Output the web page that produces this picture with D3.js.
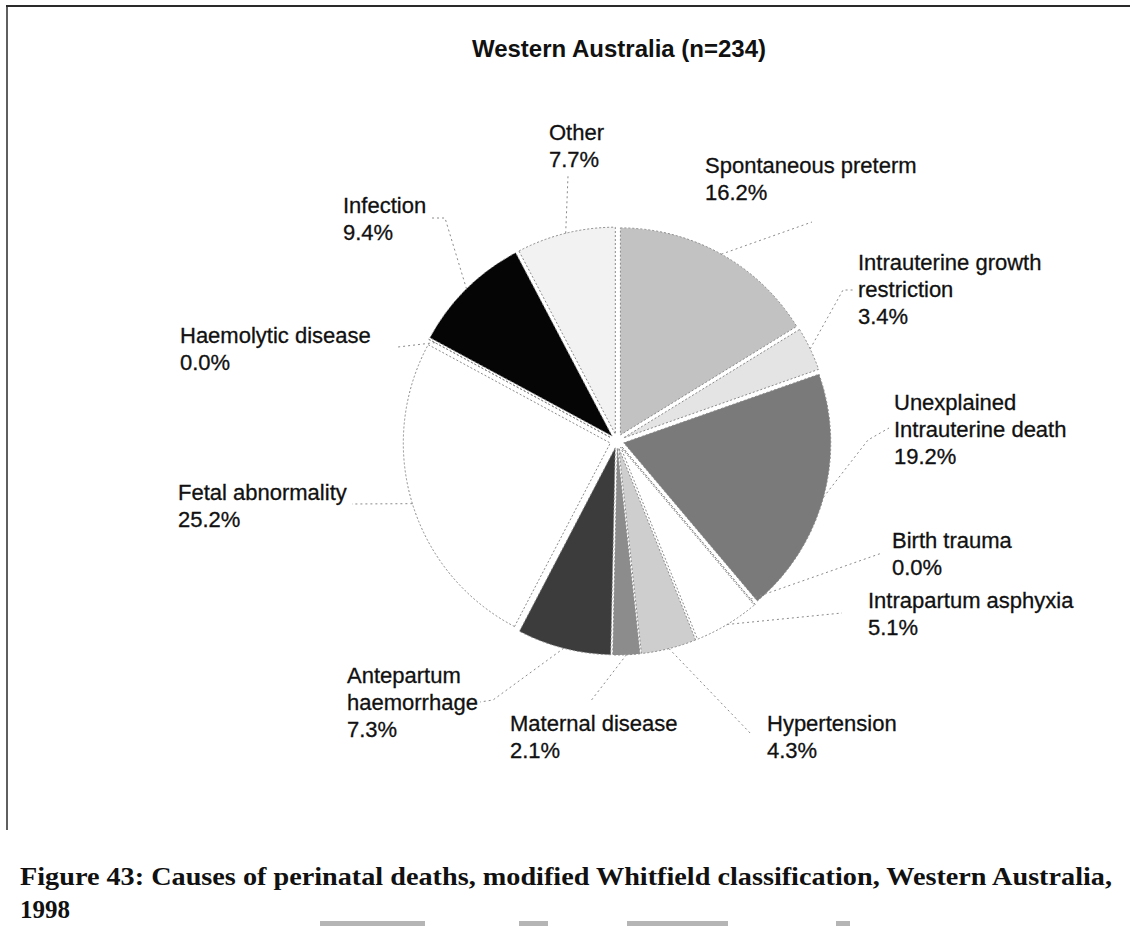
<!DOCTYPE html>
<html>
<head>
<meta charset="utf-8">
<script src="https://cdn.jsdelivr.net/npm/d3@7"></script>
<style>
  html, body { margin: 0; padding: 0; background: #fff; }
  svg { display: block; }
</style>
</head>
<body>
<svg id="chart" width="1130" height="926"></svg>
<script>
// Causes of perinatal deaths, Western Australia 1998 (percent of 234 deaths)
const categories = [
  "Spontaneous preterm", "Intrauterine growth restriction", "Unexplained Intrauterine death",
  "Birth trauma", "Intrapartum asphyxia", "Hypertension", "Maternal disease",
  "Antepartum haemorrhage", "Fetal abnormality", "Haemolytic disease", "Infection", "Other"
];
const percents = [16.2, 3.4, 19.2, 0.0, 5.1, 4.3, 2.1, 7.3, 25.2, 0.0, 9.4, 7.7];
const labelLines = [
  ["Spontaneous preterm"], ["Intrauterine growth", "restriction"], ["Unexplained", "Intrauterine death"],
  ["Birth trauma"], ["Intrapartum asphyxia"], ["Hypertension"], ["Maternal disease"],
  ["Antepartum", "haemorrhage"], ["Fetal abnormality"], ["Haemolytic disease"], ["Infection"], ["Other"]
];
const titleText = "Western Australia (n=234)";
const captionLines = [
  "Figure 43: Causes of perinatal deaths, modified Whitfield classification, Western Australia,",
  "1998"
];

// Slice shading (greyscale print)
const fills = ["#c2c2c2", "#e4e4e4", "#7a7a7a", "#ffffff", "#ffffff", "#cecece",
               "#8c8c8c", "#3c3c3c", "#ffffff", "#ffffff", "#050505", "#f2f2f2"];

// Label placement: left x, first baseline, and leader path (from slice edge to label)
const labelLayout = [
  { x: 705, y: 173, leader: [[812, 222]] },
  { x: 858, y: 270, leader: [[843, 290], [853, 290]] },
  { x: 894, y: 410, leader: [[868, 440], [889, 428]] },
  { x: 892, y: 548, leader: [[882, 553]] },
  { x: 868, y: 608, leader: [[842, 613]] },
  { x: 767, y: 731, leader: [[752, 735]] },
  { x: 510, y: 731, leader: [[590, 702]] },
  { x: 347, y: 683, leader: [[493, 700], [480, 702]] },
  { x: 178, y: 500, leader: [[352, 504]] },
  { x: 180, y: 343, leader: [[398, 347]] },
  { x: 343, y: 213, leader: [[445, 218], [430, 218]] },
  { x: 549, y: 140, leader: [[568, 176]] }
];

const svg = d3.select("#chart");
const W = 1130;
const cx = 617, cy = 441, R = 207, explode = 7;
const lineH = 27;

// Page frame (top rule and left rule)
svg.append("line").attr("x1", 6).attr("x2", W).attr("y1", 6).attr("y2", 6)
  .attr("stroke", "#2a2a2a").attr("stroke-width", 2);
svg.append("line").attr("x1", 7).attr("x2", 7).attr("y1", 6).attr("y2", 830)
  .attr("stroke", "#2a2a2a").attr("stroke-width", 1.5);

// Title
svg.append("text").attr("x", 619).attr("y", 57).attr("text-anchor", "middle")
  .attr("font-family", "Liberation Sans, Arial, sans-serif").attr("font-weight", "bold")
  .attr("font-size", 24).attr("fill", "#111").text(titleText);

const pie = d3.pie().sort(null).value(d => d).startAngle(0).endAngle(2 * Math.PI);
const arcs = pie(percents);
const arc = d3.arc().innerRadius(0).outerRadius(R);

const g = svg.append("g").attr("transform", `translate(${cx},${cy})`);

const mid = d => (d.startAngle + d.endAngle) / 2;
const offset = (a, r) => [Math.sin(a) * r, -Math.cos(a) * r];

g.selectAll("path.slice").data(arcs).enter().append("path")
  .attr("class", "slice")
  .attr("d", arc)
  .attr("transform", d => {
    const [dx, dy] = offset(mid(d), explode);
    return `translate(${dx},${dy})`;
  })
  .attr("fill", (d, i) => fills[i])
  .attr("stroke", "#8a8a8a")
  .attr("stroke-width", 1)
  .attr("stroke-dasharray", "2,2");

// Leader lines
arcs.forEach((d, i) => {
  const a = d.value === 0 ? d.startAngle : mid(d);
  const [sx, sy] = offset(a, R + (d.value === 0 ? 0 : explode));
  const pts = [[cx + sx, cy + sy]].concat(labelLayout[i].leader);
  svg.append("path")
    .attr("d", d3.line()(pts))
    .attr("fill", "none")
    .attr("stroke", "#8a8a8a")
    .attr("stroke-width", 1)
    .attr("stroke-dasharray", "2,3");
});

// Labels
arcs.forEach((d, i) => {
  const L = labelLayout[i];
  const lines = labelLines[i].concat([d3.format(".1f")(percents[i]) + "%"]);
  const t = svg.append("text")
    .attr("font-family", "Liberation Sans, Arial, sans-serif")
    .attr("font-size", 22).attr("fill", "#111")
    .attr("stroke", "#111").attr("stroke-width", 0.3);
  lines.forEach((s, k) => {
    t.append("tspan").attr("x", L.x).attr("y", L.y + k * lineH).text(s);
  });
});

// Caption
captionLines.forEach((s, k) => {
  const t = svg.append("text").attr("x", 20).attr("y", 885 + k * 33)
    .attr("font-family", "Liberation Serif, Times New Roman, serif")
    .attr("font-weight", "bold").attr("font-size", 25).attr("fill", "#111").text(s);
  if (k === 0) t.attr("textLength", 1092).attr("lengthAdjust", "spacingAndGlyphs");
});

// Rules of the following table, just showing at the page foot
const footRules = [[320, 425], [519, 548], [627, 728], [836, 850]];
svg.selectAll("rect.foot").data(footRules).enter().append("rect")
  .attr("class", "foot")
  .attr("x", d => d[0]).attr("width", d => d[1] - d[0])
  .attr("y", 921).attr("height", 5)
  .attr("fill", "#b5b5b5");
</script>
</body>
</html>
